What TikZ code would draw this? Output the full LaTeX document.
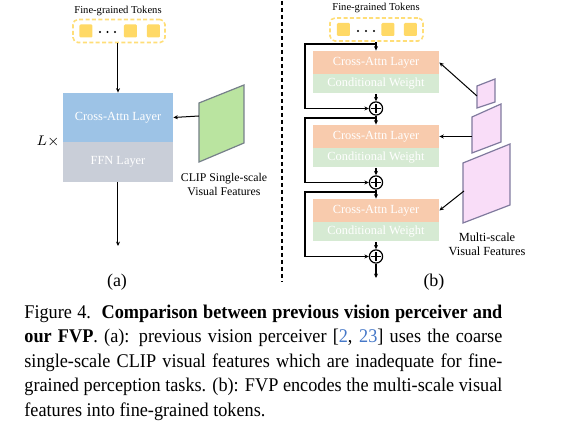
\documentclass[tikz,border=0pt]{standalone}
\usepackage{fontspec}
\setmainfont{Liberation Serif}
\newfontfamily\capfont{Liberation Serif}[FakeStretch=0.94]
\usetikzlibrary{arrows.meta}
\definecolor{cablue}{RGB}{157,195,230}
\definecolor{ffngray}{RGB}{201,206,216}
\definecolor{clipgreen}{RGB}{186,228,160}
\definecolor{caorange}{RGB}{248,203,173}
\definecolor{cwgreen}{RGB}{214,234,211}
\definecolor{featpink}{RGB}{249,221,248}
\definecolor{pinkedge}{RGB}{128,122,158}
\definecolor{greenedge}{RGB}{118,128,138}
\definecolor{tokyellow}{RGB}{255,217,102}
\definecolor{tokdash}{RGB}{255,222,120}
\definecolor{citeblue}{RGB}{70,120,200}
\begin{document}
\begin{tikzpicture}[x=0.5pt,y=-0.5pt,
  boxa/.style={rectangle,inner sep=0pt,minimum width=55pt,text=white,font=\fontsize{6.2}{7}\selectfont},
  boxb/.style={rectangle,inner sep=0pt,minimum width=63pt,text=white,font=\fontsize{6.2}{7}\selectfont},
  tokbox/.style={rectangle,rounded corners=2.5pt,draw=tokdash,line width=0.8pt,dash pattern=on 2pt off 1.2pt,inner sep=0pt,minimum height=11.5pt},
  tok/.style={rectangle,rounded corners=0.6pt,fill=tokyellow,inner sep=0pt,minimum size=6.5pt},
  lbl/.style={inner sep=0pt,align=center,font=\fontsize{5.9}{7}\selectfont},
  toklbl/.style={inner sep=0pt,font=\fontsize{5.3}{6}\selectfont},
  arr/.style={-{Stealth[length=2.2pt,width=2pt]},line width=0.5pt},
  arrb/.style={-{Stealth[length=2.2pt,width=2pt]},line width=0.7pt},
  oplus/.style={circle,draw,line width=0.6pt,minimum size=6.6pt,inner sep=0pt,
    path picture={\draw[line width=0.6pt]
      ([xshift=-2.3pt]path picture bounding box.center) -- ([xshift=2.3pt]path picture bounding box.center)
      ([yshift=-2.3pt]path picture bounding box.center) -- ([yshift=2.3pt]path picture bounding box.center);}},
  sub/.style={inner sep=0pt,font=\fontsize{9}{10}\selectfont}]
\useasboundingbox (0,0) rectangle (570,431);

% ---------------- (a) ----------------
\node[toklbl] (tla) at (118,11) {Fine-grained Tokens};
\node[tokbox,minimum width=46pt] (tka) at (119,31) {};
\node[tok] (ta1) at (86,31) {};
\node[tok] (ta2) at (130.5,31) {};
\node[tok] (ta3) at (153.5,31) {};
\foreach \x in {100,107.5,115} \fill (\x,32) circle (0.6pt);
\node[boxa,fill=cablue,minimum height=24.5pt] (caa) at (118,117.5) {Cross-Attn Layer};
\node[boxa,fill=ffngray,minimum height=20pt] (ffn) at (118,162) {FFN Layer};
\node[inner sep=0pt,font=\fontsize{7.5}{8}\selectfont] (lx) at (48,142) {$L\times$};
\coordinate (outa) at (118,246);
\draw[arr] (tka.south -| caa.north) -- (caa.north);
\draw[arr] (ffn.south) -- (outa);
\draw[fill=clipgreen,draw=greenedge,line width=0.6pt] (199,103) -- (244,85) -- (244,143) -- (199,162) -- cycle;
\coordinate (ga) at (199,116);
\draw[arr] (ga) -- (caa.east);
\node[lbl] (clipl) at (224,185) {CLIP Single-scale\\Visual Features};
\node[sub] (suba) at (117,282) {(a)};

% divider
\coordinate (d1) at (282,1);
\coordinate (d2) at (282,282);
\draw[line width=0.6pt,dash pattern=on 2.2pt off 1.3pt] (d1) -- (d2);

% ---------------- (b) ----------------
\node[toklbl] (tlb) at (376,8) {Fine-grained Tokens};
\node[tokbox,minimum width=46.5pt] (tkb) at (376.5,29.5) {};
\node[tok] (tb1) at (343.5,29.5) {};
\node[tok] (tb2) at (388,29.5) {};
\node[tok] (tb3) at (410.5,29.5) {};
\foreach \x in {358,366,374} \fill (\x,31) circle (0.6pt);

\node[boxb,fill=caorange,minimum height=11.5pt] (ca1) at (376,62.5) {Cross-Attn Layer};
\node[boxb,fill=cwgreen,minimum height=9.75pt] (cw1) at (376,83.75) {Conditional Weight};
\node[oplus] (p1) at (376,108.5) {};
\node[boxb,fill=caorange,minimum height=11.5pt] (ca2) at (376,136.5) {Cross-Attn Layer};
\node[boxb,fill=cwgreen,minimum height=9.75pt] (cw2) at (376,157.75) {Conditional Weight};
\node[oplus] (p2) at (376,182.5) {};
\node[boxb,fill=caorange,minimum height=11.5pt] (ca3) at (376,210.5) {Cross-Attn Layer};
\node[boxb,fill=cwgreen,minimum height=9.75pt] (cw3) at (376,231.75) {Conditional Weight};
\node[oplus] (p3) at (376,256.5) {};
\coordinate (outb) at (376,278);

\coordinate (s1) at (376,44);
\coordinate (s2) at (376,118);
\coordinate (s3) at (376,192);
\draw[arrb] (tkb.south -| ca1.north) -- (ca1.north);
\draw[arrb] (s1) -| (305,108.5) -- (p1.west);
\draw[arrb] (cw1.south) -- (p1.north);
\draw[arrb] (p1.south) -- (ca2.north);
\draw[arrb] (s2) -| (305,182.5) -- (p2.west);
\draw[arrb] (cw2.south) -- (p2.north);
\draw[arrb] (p2.south) -- (ca3.north);
\draw[arrb] (s3) -| (305,256.5) -- (p3.west);
\draw[arrb] (cw3.south) -- (p3.north);
\draw[arrb] (p3.south) -- (outb);

\draw[fill=featpink,draw=pinkedge,line width=0.6pt] (477,86) -- (495,79) -- (495,102) -- (477,108) -- cycle;
\draw[fill=featpink,draw=pinkedge,line width=0.6pt] (472,117) -- (501,104) -- (501,142) -- (472,153) -- cycle;
\draw[fill=featpink,draw=pinkedge,line width=0.6pt] (463,163) -- (510,144) -- (510,205) -- (463,223) -- cycle;
\coordinate (f1) at (477,96);
\coordinate (f2) at (472,136.5);
\coordinate (f3) at (464,191);
\draw[arr] (f1) -- (ca1.east);
\draw[arr] (f2) -- (ca2.east);
\draw[arr] (f3) -- (ca3.east);
\node[lbl,font=\fontsize{6.2}{7}\selectfont] (msl) at (487,244) {Multi-scale\\Visual Features};
\node[sub] (subb) at (434,282) {(b)};

% ---------------- caption ----------------
\node[anchor=north west,inner sep=0pt,text width=239pt,align=justify,font=\capfont\fontsize{9.7}{12.25}\selectfont] (cap) at (24,304.5)
{Figure 4.\ \ \textbf{Comparison between previous vision perceiver and\linebreak our FVP}. (a): previous vision perceiver [\textcolor{citeblue}{2}, \textcolor{citeblue}{23}] uses the coarse\linebreak single-scale CLIP visual features which are inadequate for fine-\linebreak grained perception tasks. (b): FVP encodes the multi-scale visual\linebreak features into fine-grained tokens.};
\end{tikzpicture}
\end{document}
